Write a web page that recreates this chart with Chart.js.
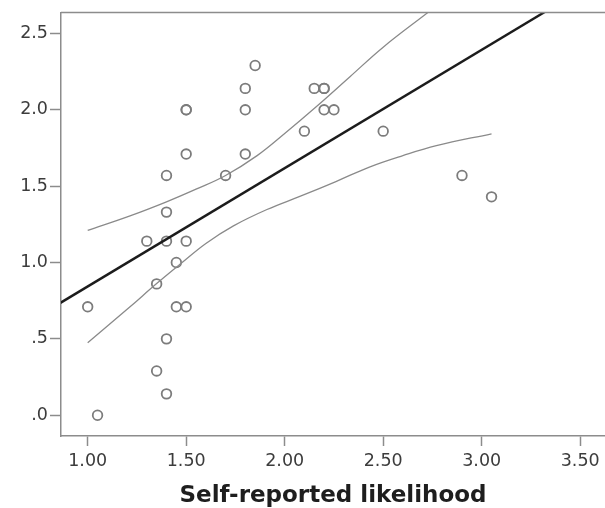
<!DOCTYPE html>
<html lang="en">
<head>
<meta charset="utf-8">
<title>Self-reported likelihood scatter</title>
<script src="https://cdn.jsdelivr.net/npm/chart.js@4.4.1/dist/chart.umd.min.js"></script>
<style>
  html, body { margin: 0; padding: 0; background: #fff; }
  #wrap { width: 605px; height: 508px; }
</style>
</head>
<body>
<div id="wrap"><canvas id="chart"></canvas></div>
<script>
// observed points (x = self-reported likelihood)
const obsX = [1.00, 1.05, 1.30, 1.35, 1.35, 1.40, 1.40, 1.40, 1.40, 1.40, 1.45, 1.45,
              1.50, 1.50, 1.50, 1.50, 1.50, 1.70, 1.80, 1.80, 1.80, 1.85, 2.10, 2.15,
              2.20, 2.20, 2.20, 2.25, 2.50, 2.90, 3.05];
const obsY = [0.71, 0.00, 1.14, 0.86, 0.29, 1.57, 1.33, 1.14, 0.50, 0.14, 1.00, 0.71,
              2.00, 2.00, 1.71, 1.14, 0.71, 1.57, 2.14, 2.00, 1.71, 2.29, 1.86, 2.14,
              2.14, 2.14, 2.00, 2.00, 1.86, 1.57, 1.43];

// fit line, read where it meets the plot frame
const fitX = [0.86, 3.32];
const fitY = [0.735, 2.64];

// confidence band curves
const upperX = [1.00, 1.215, 1.40, 1.55, 1.70, 1.86, 2.00, 2.16, 2.33, 2.50, 2.73];
const upperY = [1.21, 1.305, 1.397, 1.48, 1.57, 1.70, 1.845, 2.02, 2.215, 2.41, 2.64];
const lowerX = [1.00, 1.215, 1.35, 1.47, 1.60, 1.74, 1.91, 2.08, 2.26, 2.43, 2.60, 2.77, 3.05];
const lowerY = [0.474, 0.71, 0.862, 0.99, 1.125, 1.24, 1.347, 1.434, 1.53, 1.625, 1.70, 1.765, 1.843];

const xTicks = [1.00, 1.50, 2.00, 2.50, 3.00, 3.50];
const yTicks = [0, 0.5, 1.0, 1.5, 2.0, 2.5];
const yTickLabels = ['.0', '.5', '1.0', '1.5', '2.0', '2.5'];

const pts = (xs, ys) => xs.map((x, i) => ({ x: x, y: ys[i] }));

const frameTop = {
  id: 'frameTop',
  afterDatasetsDraw(chart) {
    const a = chart.chartArea, c = chart.ctx;
    c.save();
    c.strokeStyle = '#8c8c8c';
    c.lineWidth = 1.5;
    c.beginPath();
    c.moveTo(a.left, a.top);
    c.lineTo(a.right, a.top);
    c.stroke();
    c.restore();
  }
};

const tickFont = { family: 'DejaVu Sans', size: 17.5 };

new Chart(document.getElementById('chart'), {
  type: 'scatter',
  data: {
    datasets: [
      {
        label: 'upper',
        data: pts(upperX, upperY),
        showLine: true,
        borderColor: '#8a8a8a',
        borderWidth: 1.3,
        pointRadius: 0,
        tension: 0.4
      },
      {
        label: 'lower',
        data: pts(lowerX, lowerY),
        showLine: true,
        borderColor: '#8a8a8a',
        borderWidth: 1.3,
        pointRadius: 0,
        tension: 0.4
      },
      {
        label: 'fit',
        data: pts(fitX, fitY),
        showLine: true,
        borderColor: '#1c1c1c',
        borderWidth: 2.5,
        pointRadius: 0
      },
      {
        label: 'observed',
        data: pts(obsX, obsY),
        pointStyle: 'circle',
        pointRadius: 4.8,
        pointBorderWidth: 1.8,
        pointBorderColor: '#7c7c7c',
        pointBackgroundColor: 'rgba(0,0,0,0)'
      }
    ]
  },
  options: {
    responsive: true,
    maintainAspectRatio: false,
    animation: false,
    layout: { autoPadding: false, padding: { top: 7, right: 0, left: 0, bottom: 0 } },
    plugins: {
      legend: { display: false },
      tooltip: { enabled: false }
    },
    scales: {
      x: {
        type: 'linear',
        min: 0.8645,
        max: 3.626,
        afterBuildTicks: s => { s.ticks = xTicks.map(v => ({ value: v })); },
        afterFit: s => { s.height = 72; },
        grid: { drawOnChartArea: false, tickLength: 10, tickColor: '#8c8c8c', tickWidth: 1.5 },
        border: { color: '#8c8c8c', width: 1.5 },
        ticks: {
          color: '#3c3c3c',
          font: tickFont,
          padding: 5,
          maxRotation: 0,
          callback: v => v.toFixed(2)
        },
        title: {
          display: true,
          text: 'Self-reported likelihood',
          color: '#1e1e1e',
          font: { family: 'DejaVu Sans', size: 23, weight: 'bold' },
          padding: { top: 8, bottom: -2 }
        }
      },
      y: {
        type: 'linear',
        min: -0.136,
        max: 2.637,
        afterBuildTicks: s => { s.ticks = yTicks.map(v => ({ value: v })); },
        afterFit: s => { s.width = 61; },
        grid: { drawOnChartArea: false, tickLength: 11, tickColor: '#8c8c8c', tickWidth: 1.5 },
        border: { color: '#8c8c8c', width: 1.5 },
        ticks: {
          color: '#3c3c3c',
          font: tickFont,
          padding: 2,
          callback: v => yTickLabels[yTicks.indexOf(v)]
        }
      }
    }
  },
  plugins: [frameTop]
});
</script>
</body>
</html>
